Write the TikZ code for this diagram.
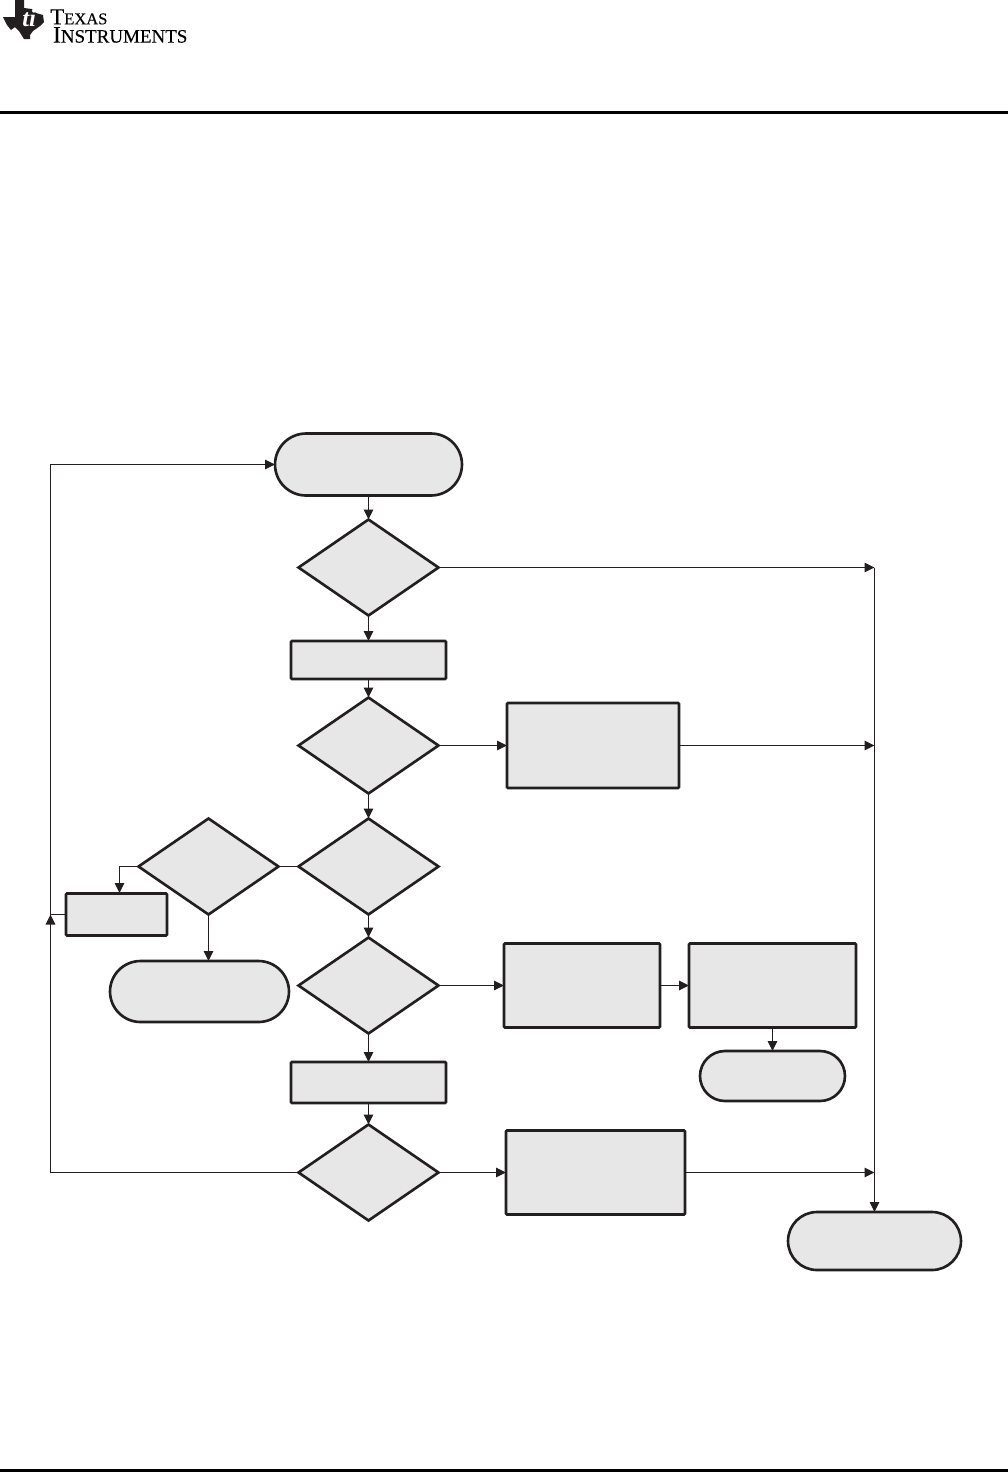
\documentclass[tikz,border=0pt]{standalone}
\usepackage{fontspec}
\setmainfont{Liberation Serif}
\newfontfamily\logofont[FakeBold=0.3]{Liberation Serif}
\usepackage{tikz}
\usetikzlibrary{arrows.meta}
\usetikzlibrary{shapes.geometric, shapes.misc}
\definecolor{boxgray}{HTML}{E7E7E7}
\definecolor{inkblack}{HTML}{231F20}
\tikzset{
  flowshape/.style={draw=inkblack, fill=boxgray, line width=1.5pt, inner sep=0pt, outer sep=0pt},
  decision/.style={flowshape, diamond, minimum width=2.80cm, minimum height=1.92cm},
  process/.style={flowshape, rectangle, rounded corners=0.5pt},
  terminal/.style={flowshape, rounded rectangle},
  link/.style={draw=inkblack, line width=0.65pt},
  flow/.style={link, -{Triangle[length=0.2cm, width=0.19cm]}}
}
\begin{document}
\begin{tikzpicture}[x=0.02cm, y=-0.02cm]
  \useasboundingbox (0,0) rectangle (1008,1472);

  % header and footer
  \fill[black] (0,111) rectangle (1008,114);
  \fill[black] (0,1469) rectangle (1008,1472);
  \fill[inkblack] (15,0) -- (24,0) -- (24,8) -- (32,9) -- (36,13) -- (43,15) -- (44,22) -- (40,26)
    -- (33,31) -- (30,35) -- (30,39) -- (24,39) -- (19,31) -- (15,27) -- (11,30) -- (7,25) -- (3,17) -- (15,17) -- cycle;
  \node[inner sep=0pt, anchor=base west, text=white, font=\bfseries\itshape\fontsize{14}{14}\selectfont] (logomark) at (22,26) {ti};
  \node[inner sep=0pt, anchor=north west, align=left, text=black, font=\logofont\fontsize{10}{10.4}\selectfont] (logotext) at (50,9)
    {{\fontsize{13}{10.4}\selectfont T}{\fontsize{9.4}{10.4}\selectfont EXAS}\\
     \hspace{1.5pt}{\fontsize{13.5}{10.4}\selectfont I}{\fontsize{10.8}{10.4}\selectfont NSTRUMENTS}};

  % main column
  \node[terminal, minimum width=3.74cm, minimum height=1.24cm] (start) at (368.5,464.5) {};
  \node[decision] (dec1) at (368.5,567.5) {};
  \node[process, minimum width=3.10cm, minimum height=0.76cm] (proc1) at (368.5,660) {};
  \node[decision] (dec2) at (368.5,745.5) {};
  \node[decision] (dec3) at (368.5,866.5) {};
  \node[decision] (dec5) at (368.5,985.5) {};
  \node[process, minimum width=3.10cm, minimum height=0.82cm] (proc6) at (368.5,1082.5) {};
  \node[decision] (dec6) at (368.5,1172.5) {};

  % left branch
  \node[decision] (dec4) at (208.5,866.5) {};
  \node[process, minimum width=2.02cm, minimum height=0.84cm] (proc3) at (116.5,914.5) {};
  \node[terminal, minimum width=3.58cm, minimum height=1.22cm] (endb) at (199.5,991.5) {};

  % right branch
  \node[process, minimum width=3.44cm, minimum height=1.70cm] (proc2) at (593,745.5) {};
  \node[process, minimum width=3.12cm, minimum height=1.68cm] (proc4) at (582,985.5) {};
  \node[process, minimum width=3.34cm, minimum height=1.68cm] (proc5) at (772.5,985.5) {};
  \node[terminal, minimum width=2.90cm, minimum height=1.00cm] (endc) at (772.5,1076) {};
  \node[process, minimum width=3.58cm, minimum height=1.68cm] (proc7) at (595.5,1172.5) {};
  \node[terminal, minimum width=3.46cm, minimum height=1.16cm] (endd) at (874.5,1241) {};

  % junctions
  \coordinate (busa) at (874.5,567.5);
  \coordinate (busb) at (874.5,745.5);
  \coordinate (busc) at (874.5,1172.5);
  \coordinate (busend) at (874.5,1212);
  \coordinate (backa) at (50.5,1172.5);
  \coordinate (backb) at (50.5,914.5);
  \coordinate (backc) at (50.5,464.5);
  \coordinate (proc3top) at (119.5,893);
  \coordinate (endbtop) at (208.5,961);

  \draw[flow] (start) -- (dec1);
  \draw[flow] (dec1) -- (proc1);
  \draw[flow] (proc1) -- (dec2);
  \draw[flow] (dec2) -- (dec3);
  \draw[flow] (dec3) -- (dec5);
  \draw[flow] (dec5) -- (proc6);
  \draw[flow] (proc6) -- (dec6);

  \draw[flow] (dec1.east) -- (busa);
  \draw[flow] (dec2.east) -- (proc2.west);
  \draw[flow] (proc2.east) -- (busb);
  \draw[flow] (dec5.east) -- (proc4.west);
  \draw[flow] (proc4.east) -- (proc5.west);
  \draw[flow] (proc5) -- (endc);
  \draw[flow] (dec6.east) -- (proc7.west);
  \draw[flow] (proc7.east) -- (busc);
  \draw[flow] (busa) -- (busend);

  \draw[link] (dec3.west) -- (dec4.east);
  \draw[flow] (dec4.west) -| (proc3top);
  \draw[flow] (dec4.south) -- (endbtop);
  \draw[link] (proc3.west) -- (backb);
  \draw[flow] (dec6.west) -- (backa) -- (backb);
  \draw[flow] (backb) -- (backc) -- (start.west);
\end{tikzpicture}
\end{document}
